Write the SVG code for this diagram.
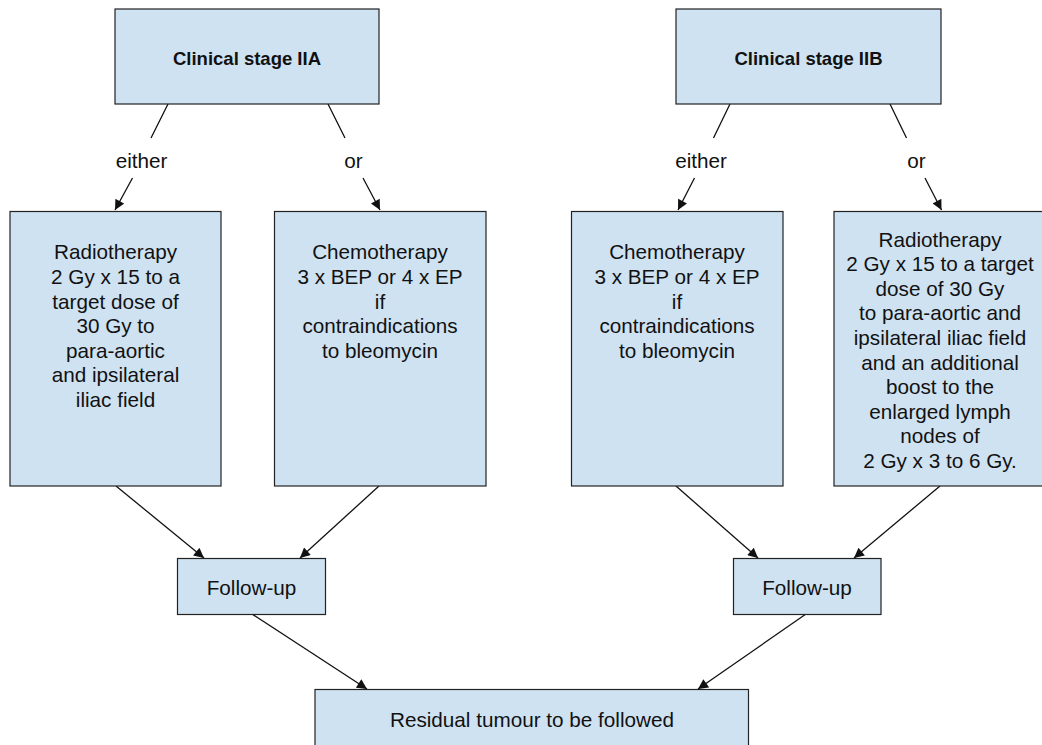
<svg xmlns="http://www.w3.org/2000/svg" width="1042" height="745" viewBox="0 0 1042 745">
<style>
.box{fill:#cfe2f2;stroke:#222;stroke-width:1.2}
.t{font-family:"Liberation Sans",Arial,sans-serif;font-size:20.7px;fill:#111;text-anchor:middle}
.b{font-weight:bold;font-size:18.5px}
.c{fill:none;stroke:#111;stroke-width:1.3;marker-end:url(#ah)}
</style>
<defs>
<marker id="ah" viewBox="0 0 10 10" refX="10" refY="5" markerUnits="userSpaceOnUse" markerWidth="11" markerHeight="10" orient="auto">
<path d="M0,0 L10,5 L0,10 z" fill="#111"/>
</marker>
</defs>
<rect width="1042" height="745" fill="#fff"/>
<g id="connectors">
<path class="c" d="M168,104 L151,138 M132.5,178 L115,210"/>
<path class="c" d="M328,104 L345,138 M363,178 L380,210"/>
<path class="c" d="M730,104 L713.5,138 M694.5,178 L678,210"/>
<path class="c" d="M890,104 L906.5,138 M925,178 L941.5,210"/>
<path class="c" d="M116,486 L204,558"/>
<path class="c" d="M379,486 L300,558"/>
<path class="c" d="M676,486 L758,558"/>
<path class="c" d="M940,486 L854,558"/>
<path class="c" d="M252,614 L367,689"/>
<path class="c" d="M806,614 L698,689"/>
<text class="t" x="141.5" y="167.5">either</text>
<text class="t" x="353.5" y="167.5">or</text>
<text class="t" x="701" y="167.5">either</text>
<text class="t" x="916.5" y="167.5">or</text>
</g>
<g id="stageIIA">
<rect class="box" x="115" y="9" width="264" height="95"/>
<text class="t b" x="247" y="65">Clinical stage IIA</text>
</g>
<g id="stageIIB">
<rect class="box" x="676" y="9" width="265" height="95"/>
<text class="t b" x="808.5" y="65">Clinical stage IIB</text>
</g>
<g id="radioA">
<rect class="box" x="10" y="211.5" width="211" height="274.5"/>
<text class="t" x="115.5" y="259.3">Radiotherapy<tspan x="115.5" dy="24.6">2 Gy x 15 to a</tspan><tspan x="115.5" dy="24.6">target dose of</tspan><tspan x="115.5" dy="24.6">30 Gy to</tspan><tspan x="115.5" dy="24.6">para-aortic</tspan><tspan x="115.5" dy="24.6">and ipsilateral</tspan><tspan x="115.5" dy="24.6">iliac field</tspan></text>
</g>
<g id="chemoA">
<rect class="box" x="274.5" y="211.5" width="211.5" height="274.5"/>
<text class="t" x="380" y="259.3">Chemotherapy<tspan x="380" dy="24.6">3 x BEP or 4 x EP</tspan><tspan x="380" dy="24.6">if</tspan><tspan x="380" dy="24.6">contraindications</tspan><tspan x="380" dy="24.6">to bleomycin</tspan></text>
</g>
<g id="chemoB">
<rect class="box" x="571.5" y="211.5" width="211.5" height="274.5"/>
<text class="t" x="677" y="259.3">Chemotherapy<tspan x="677" dy="24.6">3 x BEP or 4 x EP</tspan><tspan x="677" dy="24.6">if</tspan><tspan x="677" dy="24.6">contraindications</tspan><tspan x="677" dy="24.6">to bleomycin</tspan></text>
</g>
<g id="radioB">
<rect class="box" x="834" y="211.5" width="212" height="274.5"/>
<text class="t" x="940" y="246.5">Radiotherapy<tspan x="940" dy="24.6">2 Gy x 15 to a target</tspan><tspan x="940" dy="24.6">dose of 30 Gy</tspan><tspan x="940" dy="24.6">to para-aortic and</tspan><tspan x="940" dy="24.6">ipsilateral iliac field</tspan><tspan x="940" dy="24.6">and an additional</tspan><tspan x="940" dy="24.6">boost to the</tspan><tspan x="940" dy="24.6">enlarged lymph</tspan><tspan x="940" dy="24.6">nodes of</tspan><tspan x="940" dy="24.6">2 Gy x 3 to 6 Gy.</tspan></text>
</g>
<g id="followA">
<rect class="box" x="177.5" y="558.5" width="148" height="56"/>
<text class="t" x="251.5" y="595">Follow-up</text>
</g>
<g id="followB">
<rect class="box" x="733.5" y="558.5" width="147.5" height="56"/>
<text class="t" x="807" y="595">Follow-up</text>
</g>
<g id="residual">
<rect class="box" x="315" y="689.5" width="433.5" height="70"/>
<text class="t" x="532" y="726.5">Residual tumour to be followed</text>
</g>
</svg>
